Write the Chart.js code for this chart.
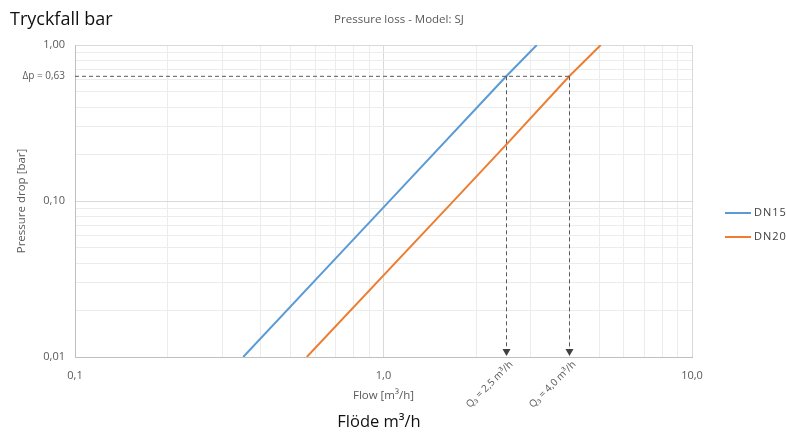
<!DOCTYPE html>
<html>
<head>
<meta charset="utf-8">
<script src="https://cdn.jsdelivr.net/npm/chart.js@4.4.0/dist/chart.umd.min.js"></script>
<style>
  html, body { margin: 0; padding: 0; background: #fff; }
  #wrap { width: 786px; height: 434px; position: relative; }
</style>
</head>
<body>
<div id="wrap"><canvas id="chart"></canvas></div>
<script>
// data
const seriesNames = ['DN15', 'DN20'];
const seriesColors = ['#5b9bd5', '#ed7d31'];
const dn15Flow = [0.351, 1.0, 2.5, 3.14];
const dn15Drop = [0.01, 0.091, 0.63, 1.0];
const dn20Flow = [0.564, 1.67, 2.5, 4.0, 5.06];
const dn20Drop = [0.01, 0.098, 0.23, 0.63, 1.0];

const xTicks = [0.1,0.2,0.3,0.4,0.5,0.6,0.7,0.8,0.9,1,2,3,4,5,6,7,8,9,10];
const yTicks = [0.01,0.02,0.03,0.04,0.05,0.06,0.07,0.08,0.09,0.1,0.2,0.3,0.4,0.5,0.6,0.63,0.7,0.8,0.9,1];
const xMajorLabels = { 0.1: '0,1', 1: '1,0', 10: '10,0' };
const yMajorLabels = { 0.01: '0,01', 0.1: '0,10', 1: '1,00' };

const dpRef = 0.63;
const dpLabel = 'Δp = 0,63';
const q3Flows = [2.5, 4.0];
const q3Labels = ['Q₃ = 2,5 m³/h', 'Q₃ = 4,0 m³/h'];

const FONT = '"Open Sans", "Noto Sans", sans-serif';

function toPoints(xs, ys){ return xs.map((x, i) => ({ x, y: ys[i] })); }

const isMajor = v => Math.abs(Math.log10(v) - Math.round(Math.log10(v))) < 1e-6;

// extra drawing: reference lines, arrows, rotated labels, legend, outer texts
const extras = {
  id: 'extras',
  afterDatasetsDraw(chart){
    const { ctx, chartArea: ca, scales: { x, y } } = chart;
    const yRef = y.getPixelForValue(dpRef);
    ctx.save();
    ctx.strokeStyle = '#595959';
    ctx.lineWidth = 1;
    ctx.setLineDash([4, 3]);
    ctx.beginPath();
    ctx.moveTo(ca.left, yRef);
    ctx.lineTo(x.getPixelForValue(Math.max(...q3Flows)), yRef);
    ctx.stroke();
    q3Flows.forEach(q => {
      const px = Math.round(x.getPixelForValue(q)) + 0.5;
      ctx.beginPath();
      ctx.moveTo(px, yRef);
      ctx.lineTo(px, ca.bottom - 7);
      ctx.stroke();
    });
    ctx.setLineDash([]);
    ctx.fillStyle = '#404040';
    q3Flows.forEach(q => {
      const px = Math.round(x.getPixelForValue(q)) + 0.5;
      ctx.beginPath();
      ctx.moveTo(px - 4, ca.bottom - 8);
      ctx.lineTo(px + 4, ca.bottom - 8);
      ctx.lineTo(px, ca.bottom - 1);
      ctx.closePath();
      ctx.fill();
    });
    // rotated Q3 labels
    ctx.fillStyle = '#595959';
    ctx.font = '10px ' + FONT;
    ctx.textAlign = 'right';
    ctx.textBaseline = 'middle';
    q3Flows.forEach((q, i) => {
      const px = x.getPixelForValue(q);
      ctx.save();
      ctx.translate(px + 5, ca.bottom + 6);
      ctx.rotate(-Math.PI / 4);
      ctx.fillText(q3Labels[i], 0, 0);
      ctx.restore();
    });
    ctx.restore();
  },
  afterDraw(chart){
    const { ctx } = chart;
    ctx.save();
    // chart title
    ctx.fillStyle = '#595959';
    ctx.font = '11.5px ' + FONT;
    ctx.textAlign = 'center';
    ctx.textBaseline = 'middle';
    ctx.fillText('Pressure loss - Model: SJ', 399, 20);
    // legend
    ctx.font = '11px ' + FONT;
    ctx.textAlign = 'left';
    try { ctx.letterSpacing = '1px'; } catch(_){}
    seriesNames.forEach((name, i) => {
      const yy = 213 + i * 24;
      ctx.strokeStyle = seriesColors[i];
      ctx.lineWidth = 2;
      ctx.beginPath();
      ctx.moveTo(725, yy);
      ctx.lineTo(751, yy);
      ctx.stroke();
      ctx.fillStyle = '#404040';
      ctx.fillText(name, 754, yy);
    });
    try { ctx.letterSpacing = '0px'; } catch(_){}
    // outer labels
    ctx.fillStyle = '#111';
    ctx.font = '18px ' + FONT;
    ctx.textAlign = 'left';
    ctx.fillText('Tryckfall bar', 10, 20);
    ctx.textAlign = 'center';
    ctx.font = '16.5px ' + FONT;
    ctx.fillText('Flöde m³/h', 379, 422);
    ctx.restore();
  }
};

new Chart(document.getElementById('chart'), {
  type: 'scatter',
  data: {
    datasets: [
      { label: seriesNames[0], data: toPoints(dn15Flow, dn15Drop), borderColor: seriesColors[0], backgroundColor: seriesColors[0] },
      { label: seriesNames[1], data: toPoints(dn20Flow, dn20Drop), borderColor: seriesColors[1], backgroundColor: seriesColors[1] }
    ]
  },
  options: {
    responsive: true,
    maintainAspectRatio: false,
    animation: false,
    showLine: true,
    elements: {
      line: { borderWidth: 2, tension: 0 },
      point: { radius: 0, hoverRadius: 0 }
    },
    layout: { padding: { left: 0, right: 94, top: 45, bottom: 0 } },
    plugins: {
      legend: { display: false },
      tooltip: { enabled: false },
      title: { display: false }
    },
    scales: {
      x: {
        type: 'logarithmic',
        min: 0.1, max: 10,
        afterBuildTicks: s => { s.ticks = xTicks.map(v => ({ value: v })); },
        afterFit: s => { s.height = 77; },
        ticks: {
          autoSkip: false, maxRotation: 0,
          padding: 12,
          color: '#595959',
          font: { family: FONT, size: 11 },
          callback: v => xMajorLabels[v] || ''
        },
        grid: {
          drawTicks: false,
          color: c => isMajor(c.tick.value) ? '#d9d9d9' : '#ececec'
        },
        border: { color: '#bfbfbf' },
        title: {
          display: true,
          text: 'Flow [m³/h]',
          color: '#595959',
          font: { family: FONT, size: 11.5 },
          padding: { top: 0, bottom: 31 }
        }
      },
      y: {
        type: 'logarithmic',
        min: 0.01, max: 1,
        afterBuildTicks: s => { s.ticks = yTicks.map(v => ({ value: v })); },
        afterFit: s => { s.width = 75; },
        ticks: {
          autoSkip: false,
          padding: 10,
          color: '#595959',
          font: c => ({ family: FONT, size: c.tick && c.tick.value === dpRef ? 10 : 11 }),
          callback: v => v === dpRef ? dpLabel : (yMajorLabels[v] || '')
        },
        grid: {
          drawTicks: false,
          color: c => c.tick.value === dpRef ? 'rgba(0,0,0,0)' : (isMajor(c.tick.value) ? '#d9d9d9' : '#ececec')
        },
        border: { color: '#bfbfbf' },
        title: {
          display: true,
          text: 'Pressure drop [bar]',
          color: '#595959',
          font: { family: FONT, size: 11.5 },
          padding: { top: 15, bottom: 0 }
        }
      }
    }
  },
  plugins: [extras]
});
</script>
</body>
</html>
